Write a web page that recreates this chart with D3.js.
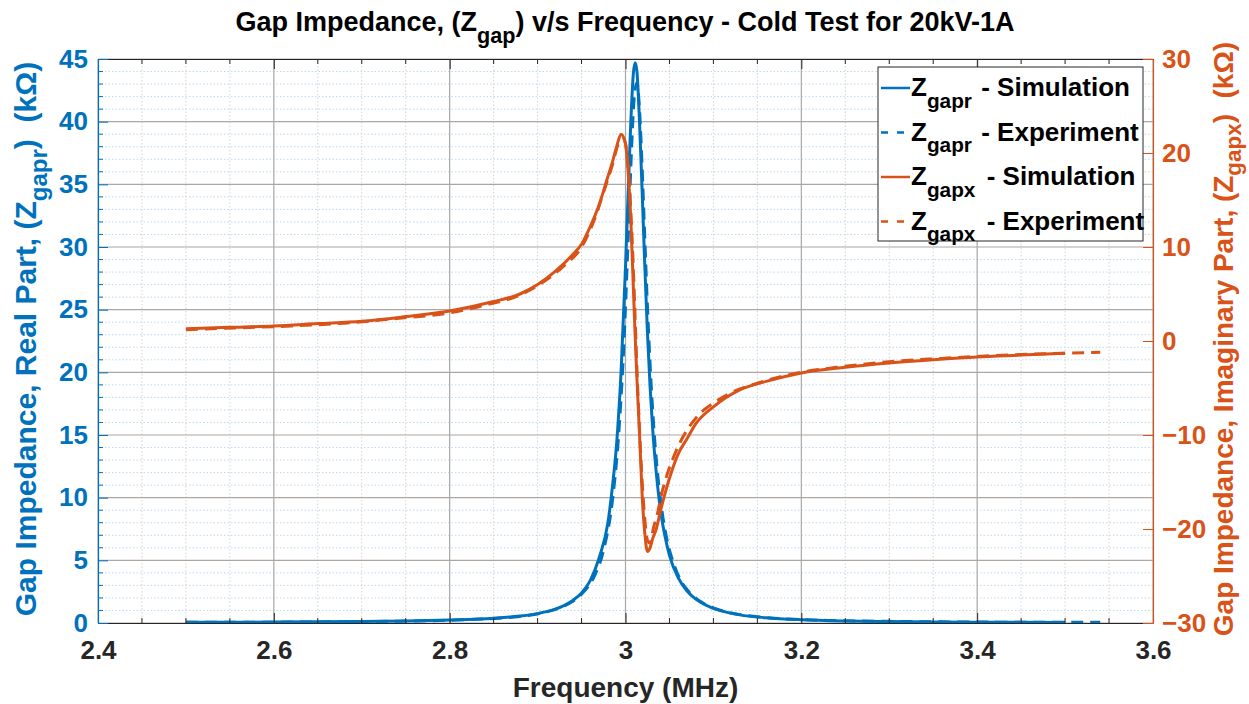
<!DOCTYPE html>
<html>
<head>
<meta charset="utf-8">
<script src="https://cdn.jsdelivr.net/npm/d3@7"></script>
<style>
  body { margin: 0; background: #fff; }
  svg text { font-family: "Liberation Sans Narrow", "Liberation Sans", Arial, sans-serif; font-weight: bold; white-space: pre; }
  svg text.wide { font-family: "Liberation Sans", Arial, sans-serif; }
</style>
</head>
<body>
<div id="chart"></div>
<script>
// frequency samples (MHz) of the simulation curves
var freqSim = [2.50, 2.55, 2.60, 2.65, 2.70, 2.75, 2.80, 2.85, 2.88, 2.90, 2.92, 2.94, 2.95, 2.96, 2.97,
    2.98, 2.985, 2.99, 2.995, 3.000, 3.003, 3.006, 3.009, 3.011, 3.013, 3.016, 3.019, 3.022, 3.025,
    3.028, 3.031, 3.035, 3.040, 3.045, 3.050, 3.060, 3.070, 3.080, 3.100, 3.130, 3.160, 3.200, 3.250,
    3.300, 3.350, 3.400, 3.450, 3.500];

// real part, simulation (kOhm)
var realSim = [0.05, 0.06, 0.07, 0.09, 0.12, 0.16, 0.24, 0.38, 0.55, 0.75, 1.1, 1.8, 2.4, 3.4, 5.2,
    8.0, 10.8, 14.4, 20.1, 28.4, 34.3, 39.9, 43.9, 44.7, 44.0, 39.9, 34.3, 28.4, 23.1,
    18.8, 15.4, 12.0, 8.9, 6.9, 5.4, 3.6, 2.55, 1.9, 1.16, 0.65, 0.42, 0.26, 0.16,
    0.11, 0.08, 0.06, 0.05, 0.04];

// imaginary part, simulation (kOhm)
var imagSim = [1.3, 1.45, 1.6, 1.85, 2.1, 2.6, 3.2, 4.2, 5.0, 6.0, 7.4, 9.2, 10.3, 12.2, 14.5,
    17.5, 19.0, 20.7, 22.0, 21.0, 18.0, 13.0, 5.5, 0.5, -4.0, -10.0, -16.5, -20.5, -22.4,
    -22.0, -21.0, -20.0, -18.0, -16.2, -14.6, -12.0, -10.4, -8.8, -7.0, -5.2, -4.3, -3.4, -2.8,
    -2.35, -2.0, -1.7, -1.5, -1.3];

// frequency samples (MHz) of the measured curves
var freqExp = [2.50, 2.56, 2.62, 2.68, 2.74, 2.80, 2.84, 2.88, 2.91, 2.93, 2.95, 2.965, 2.975, 2.985,
    2.992, 2.998, 3.003, 3.007, 3.010, 3.013, 3.016, 3.019, 3.022, 3.025, 3.028, 3.032, 3.036, 3.041,
    3.047, 3.054, 3.062, 3.072, 3.085, 3.10, 3.12, 3.15, 3.19, 3.24, 3.30, 3.36, 3.42, 3.48, 3.54];

// real part, experiment (kOhm)
var realExp = [0.05, 0.06, 0.07, 0.1, 0.14, 0.22, 0.32, 0.52, 0.88, 1.35, 2.3, 3.8, 5.8, 9.7,
    14.8, 22.0, 30.6, 38.0, 42.0, 43.1, 40.9, 36.2, 30.6, 25.2, 20.6, 15.8, 12.3, 9.2,
    6.7, 4.9, 3.5, 2.5, 1.73, 1.2, 0.8, 0.5, 0.3, 0.19, 0.13, 0.09, 0.07, 0.06, 0.05];

// imaginary part, experiment (kOhm)
var imagExp = [1.2, 1.4, 1.6, 1.9, 2.4, 3.0, 3.8, 4.9, 6.5, 8.0, 10.0, 13.0, 15.8, 18.7,
    21.0, 21.5, 18.5, 12.0, 5.0, -3.0, -9.5, -15.0, -19.0, -21.2, -21.5, -19.8, -18.5, -16.3,
    -14.3, -12.5, -10.8, -9.2, -7.7, -6.6, -5.5, -4.5, -3.5, -2.8, -2.2, -1.85, -1.55, -1.35, -1.2];

var xTicks = [2.4, 2.6, 2.8, 3.0, 3.2, 3.4, 3.6];
var yLeftTicks = [0, 5, 10, 15, 20, 25, 30, 35, 40, 45];
var yRightTicks = [-30, -20, -10, 0, 10, 20, 30];

var legendItems = [
    { sub: "gapr", label: " - Simulation", color: "#0072BD", dash: null },
    { sub: "gapr", label: " - Experiment", color: "#0072BD", dash: "7,9" },
    { sub: "gapx", label: " - Simulation", color: "#D95319", dash: null },
    { sub: "gapx", label: " - Experiment", color: "#D95319", dash: "7,9" }
];

var blue = "#0072BD", orange = "#D95319", ink = "#262626";

var W = 1249, H = 704;
var margin = { top: 59, right: 96, bottom: 81, left: 98 },
    width = W - margin.left - margin.right,
    height = H - margin.top - margin.bottom;

var svg = d3.select("#chart").append("svg")
    .attr("width", W)
    .attr("height", H)
    .style("background", "#fff");

var g = svg.append("g")
    .attr("transform", "translate(" + margin.left + "," + margin.top + ")");

var x = d3.scaleLinear().domain([2.4, 3.6]).range([0, width]);
var yL = d3.scaleLinear().domain([0, 45]).range([height, 0]);
var yR = d3.scaleLinear().domain([-30, 30]).range([height, 0]);

var minorX = d3.range(0, 25).map(function (i) { return 2.4 + i * 0.05; }).filter(function (d, i) { return i % 4 != 0; });
var minorY = d3.range(0, 46, 1).filter(function (d) { return d % 5 != 0; });

// minor grid
g.append("g").selectAll("line")
    .data(minorY)
    .enter().append("line")
    .attr("x1", 0).attr("x2", width)
    .attr("y1", function (d) { return yL(d); }).attr("y2", function (d) { return yL(d); })
    .attr("stroke", "#bcd9ee").attr("stroke-width", 1).attr("stroke-dasharray", "1.5,2");

g.append("g").selectAll("line")
    .data(minorX)
    .enter().append("line")
    .attr("y1", 0).attr("y2", height)
    .attr("x1", function (d) { return x(d); }).attr("x2", function (d) { return x(d); })
    .attr("stroke", "#d4d4d4").attr("stroke-width", 1).attr("stroke-dasharray", "1.5,2");

// major grid
g.append("g").selectAll("line")
    .data(yLeftTicks)
    .enter().append("line")
    .attr("x1", 0).attr("x2", width)
    .attr("y1", function (d) { return yL(d); }).attr("y2", function (d) { return yL(d); })
    .attr("stroke", "#a8a8a8").attr("stroke-width", 1.2);

g.append("g").selectAll("line")
    .data(xTicks)
    .enter().append("line")
    .attr("y1", 0).attr("y2", height)
    .attr("x1", function (d) { return x(d); }).attr("x2", function (d) { return x(d); })
    .attr("stroke", "#a8a8a8").attr("stroke-width", 1.2);

// curves
function drawCurve(freq, vals, scale, color, dash) {
    var pts = freq.map(function (f, i) { return [f, vals[i]]; });
    var line = d3.line()
        .x(function (d) { return x(d[0]); })
        .y(function (d) { return scale(d[1]); })
        .curve(d3.curveMonotoneX);
    g.append("path")
        .datum(pts)
        .attr("d", line)
        .attr("fill", "none")
        .attr("stroke", color)
        .attr("stroke-width", 3)
        .attr("stroke-linejoin", "round")
        .attr("stroke-dasharray", dash);
}

drawCurve(freqSim, realSim, yL, blue, null);
drawCurve(freqExp, realExp, yL, blue, "12,7");
drawCurve(freqSim, imagSim, yR, orange, null);
drawCurve(freqExp, imagExp, yR, orange, "12,7");

// axes (MATLAB style: ticks inward, box)
var xAxisB = d3.axisBottom(x).tickValues(xTicks).tickSizeInner(-10).tickSizeOuter(0)
    .tickPadding(18).tickFormat(function (d) { return d3.format("")(+d.toFixed(1)); });
var xa = g.append("g").attr("transform", "translate(0," + height + ")").call(xAxisB);
xa.select(".domain").attr("stroke", ink).attr("stroke-width", 1.2);
xa.selectAll(".tick line").attr("stroke", ink);
xa.selectAll("text").attr("class", "wide").attr("fill", ink).style("font-size", "26px");

var xAxisT = d3.axisTop(x).tickValues(xTicks).tickSizeInner(-10).tickSizeOuter(0).tickFormat("");
var xt = g.append("g").call(xAxisT);
xt.select(".domain").attr("stroke", ink).attr("stroke-width", 1.2);
xt.selectAll(".tick line").attr("stroke", ink);

// minor x ticks
[0, height].forEach(function (yy) {
    g.append("g").selectAll("line")
        .data(minorX)
        .enter().append("line")
        .attr("x1", function (d) { return x(d); }).attr("x2", function (d) { return x(d); })
        .attr("y1", yy).attr("y2", yy == 0 ? 5 : yy - 5)
        .attr("stroke", ink);
});

var yAxisL = d3.axisLeft(yL).tickValues(yLeftTicks).tickSizeInner(-10).tickSizeOuter(0).tickPadding(10);
var yl = g.append("g").call(yAxisL);
yl.select(".domain").attr("stroke", blue).attr("stroke-width", 1.2);
yl.selectAll(".tick line").attr("stroke", blue);
yl.selectAll("text").attr("class", "wide").attr("fill", blue).style("font-size", "26px");

g.append("g").selectAll("line")
    .data(minorY)
    .enter().append("line")
    .attr("x1", 0).attr("x2", 5)
    .attr("y1", function (d) { return yL(d); }).attr("y2", function (d) { return yL(d); })
    .attr("stroke", blue);

var yAxisR = d3.axisRight(yR).tickValues(yRightTicks).tickSizeInner(-10).tickSizeOuter(0).tickPadding(9);
var yr = g.append("g").attr("transform", "translate(" + width + ",0)").call(yAxisR);
yr.select(".domain").attr("stroke", orange).attr("stroke-width", 1.2);
yr.selectAll(".tick line").attr("stroke", orange);
yr.selectAll("text").attr("class", "wide").attr("fill", orange).style("font-size", "26px");

// text with a subscript
function richText(sel, parts, size, subDy, gap) {
    var dy = subDy || size * 0.45;
    parts.forEach(function (p) {
        var t = sel.append("tspan").text(p.t);
        if (p.sub) {
            t.style("font-size", (size * 0.8) + "px").attr("dy", dy);
        } else if (p.after) {
            t.attr("dy", -dy);
            if (gap) t.attr("dx", gap);
        }
    });
    return sel;
}

// title
richText(svg.append("text")
    .attr("x", 625).attr("y", 31)
    .attr("text-anchor", "middle")
    .attr("fill", "#000")
    .style("font-size", "27px"),
    [{ t: "Gap Impedance, (Z" }, { t: "gap", sub: true }, { t: ") v/s Frequency - Cold Test for 20kV-1A", after: true }], 27);

// x label
svg.append("text")
    .attr("x", margin.left + x(3.0)).attr("y", 697)
    .attr("text-anchor", "middle")
    .attr("fill", ink)
    .style("font-size", "28px")
    .text("Frequency (MHz)");

// left y label
richText(svg.append("text")
    .attr("transform", "translate(36," + (margin.top + height / 2 - 2) + ") rotate(-90)")
    .attr("text-anchor", "middle")
    .attr("fill", blue)
    .style("font-size", "30px"),
    [{ t: "Gap Impedance, Real Part, (Z" }, { t: "gapr", sub: true }, { t: ")  (k\u03A9)", after: true }], 30, 11);

// right y label
richText(svg.append("text")
    .attr("transform", "translate(1233," + (margin.top + height / 2 - 2) + ") rotate(-90)")
    .attr("text-anchor", "middle")
    .attr("fill", orange)
    .style("font-size", "28px"),
    [{ t: "Gap Impedance, Imaginary Part, (Z" }, { t: "gapx", sub: true }, { t: ")  (k\u03A9)", after: true }], 28, 8);

// legend
var lg = svg.append("g").attr("transform", "translate(878,67)");
lg.append("rect")
    .attr("width", 265).attr("height", 174)
    .attr("fill", "#fff")
    .attr("stroke", ink).attr("stroke-width", 1);

legendItems.forEach(function (d, i) {
    var yy = 21 + i * 44.5;
    lg.append("line")
        .attr("x1", 3).attr("x2", 32)
        .attr("y1", yy).attr("y2", yy)
        .attr("stroke", d.color).attr("stroke-width", 2.5)
        .attr("stroke-dasharray", d.dash);
    richText(lg.append("text")
        .attr("x", 33).attr("y", yy + 8)
        .attr("fill", "#000")
        .style("font-size", "26px"),
        [{ t: "Z" }, { t: d.sub, sub: true }, { t: d.label, after: true }], 26, null, d.sub == "gapx" ? 4 : 2);
});
</script>
</body>
</html>
